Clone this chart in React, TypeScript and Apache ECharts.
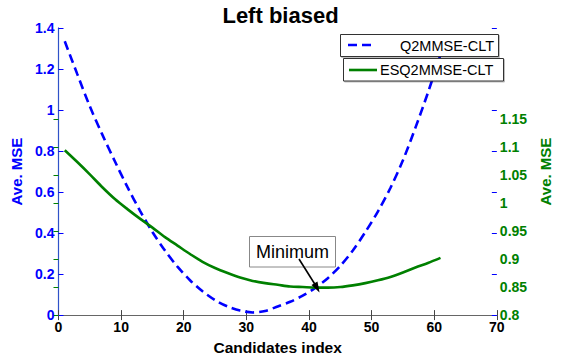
import React, { useEffect, useRef } from "react";
import * as echarts from "echarts";

// Candidate indices (sampled every 2)
const candidates = [1, 3, 5, 7, 9, 11, 13, 15, 17, 19, 21, 23, 25, 27, 29, 31, 33, 35, 37, 39, 41, 43, 45, 47, 49, 51, 53, 55, 57, 59, 61];
// Q2MMSE-CLT (left axis)
const q2mmse = [1.335, 1.175, 1.018, 0.88, 0.75, 0.625, 0.51, 0.405, 0.315, 0.236, 0.17, 0.116, 0.073, 0.042, 0.022, 0.013, 0.02, 0.042, 0.065, 0.095, 0.133, 0.18, 0.24, 0.315, 0.405, 0.505, 0.62, 0.755, 0.914, 1.085, 1.27];
// ESQ2MMSE-CLT (right axis)
const esq2mmse = [1.094, 1.073, 1.051, 1.028, 1.007, 0.989, 0.972, 0.956, 0.939, 0.924, 0.909, 0.895, 0.884, 0.875, 0.867, 0.861, 0.857, 0.854, 0.851, 0.85, 0.849, 0.849, 0.85, 0.853, 0.857, 0.862, 0.868, 0.876, 0.885, 0.893, 0.902];
const rightTicks = [0.8, 0.85, 0.9, 0.95, 1, 1.05, 1.1, 1.15];

const FONT = "'Liberation Sans', Arial, Helvetica, sans-serif";
const BLUE = "#0000ff";
const GREEN = "#008000";

export default function App() {
  const ref = useRef<HTMLDivElement>(null);
  useEffect(() => {
    if (!ref.current) return;
    const chart = echarts.init(ref.current, null, { renderer: "svg" });
    const grid = { left: 58.5, right: 58.5, top: 28, bottom: 38.5 };
    chart.setOption({
      animation: false,
      backgroundColor: "#fff",
      title: {
        text: "Left biased",
        left: "center",
        top: -1,
        textStyle: { fontFamily: FONT, fontSize: 22, fontWeight: "bold", color: "#000" },
      },
      grid,
      xAxis: [
        {
          type: "value",
          min: 0,
          max: 70,
          interval: 10,
          name: "Candidates index",
          nameLocation: "middle",
          nameGap: 21,
          nameTextStyle: { fontFamily: FONT, fontSize: 15.5, fontWeight: "bold", color: "#000" },
          axisLine: { show: true, lineStyle: { color: "#666", width: 1 } },
          axisTick: { show: true, inside: true, length: 5, lineStyle: { color: "#444" } },
          axisLabel: { fontFamily: FONT, fontSize: 14, fontWeight: "bold", color: "#000", margin: 5 },
          splitLine: { show: false },
        },
        {
          type: "value",
          position: "top",
          min: 0,
          max: 70,
          interval: 10,
          axisLine: { show: true, lineStyle: { color: "#666", width: 1 } },
          axisTick: { show: true, inside: true, length: 5, lineStyle: { color: "#444" } },
          axisLabel: { show: false },
          splitLine: { show: false },
        },
      ],
      yAxis: [
        {
          type: "value",
          position: "left",
          min: 0,
          max: 1.4,
          interval: 0.2,
          name: "Ave. MSE",
          nameLocation: "middle",
          nameRotate: 90,
          nameGap: 30,
          nameTextStyle: { fontFamily: FONT, fontSize: 15, fontWeight: "bold", color: BLUE },
          axisLine: { show: true, lineStyle: { color: "#6a6aff", width: 1 } },
          axisTick: { show: true, inside: true, length: 5, lineStyle: { color: BLUE } },
          axisLabel: { fontFamily: FONT, fontSize: 14, fontWeight: "bold", color: BLUE, margin: 4 },
          splitLine: { show: false },
        },
        {
          type: "value",
          position: "right",
          min: 0.8,
          max: 1.312,
          interval: 0.05,
          name: "Ave. MSE",
          nameLocation: "middle",
          nameRotate: 90,
          nameGap: 36,
          nameTextStyle: { fontFamily: FONT, fontSize: 15, fontWeight: "bold", color: GREEN },
          axisLine: { show: true, lineStyle: { color: "#2f52c8", width: 1.2 } },
          axisTick: { show: true, inside: true, length: 5, customValues: rightTicks, lineStyle: { color: GREEN } },
          axisLabel: {
            customValues: rightTicks,
            fontFamily: FONT,
            fontSize: 14,
            fontWeight: "bold",
            color: GREEN,
            margin: 3,
            formatter: (v: number) => String(Number(v.toFixed(2))),
          },
          splitLine: { show: false },
        },
        {
          type: "value",
          position: "right",
          min: 0,
          max: 1.4,
          interval: 0.2,
          axisLine: { show: false },
          axisTick: { show: true, inside: true, length: 5, lineStyle: { color: BLUE } },
          axisLabel: { show: false },
          splitLine: { show: false },
        },
      ],
      series: [
        {
          name: "Q2MMSE-CLT",
          type: "line",
          xAxisIndex: 0,
          yAxisIndex: 0,
          data: candidates.map((c, i) => [c, q2mmse[i]]),
          showSymbol: false,
          smooth: 0.3,
          lineStyle: { color: BLUE, width: 2.6, type: [9, 5] },
          z: 2,
        },
        {
          name: "ESQ2MMSE-CLT",
          type: "line",
          xAxisIndex: 0,
          yAxisIndex: 1,
          data: candidates.map((c, i) => [c, esq2mmse[i]]),
          showSymbol: false,
          smooth: 0.3,
          lineStyle: { color: GREEN, width: 2.6 },
          z: 3,
        },
      ],
      graphic: [
        // legend box 1
        {
          type: "rect",
          z: 100,
          shape: { x: 340.5, y: 34.5, width: 158, height: 22 },
          style: { fill: "#fff", stroke: "#333", lineWidth: 1, shadowColor: "rgba(0,0,0,0.25)", shadowOffsetX: 1, shadowOffsetY: 1, shadowBlur: 1 },
        },
        {
          type: "line",
          z: 101,
          shape: { x1: 348, y1: 45, x2: 376, y2: 45 },
          style: { stroke: BLUE, lineWidth: 2.6, lineDash: [9, 5] },
        },
        {
          type: "text",
          z: 101,
          x: 494,
          y: 45.5,
          style: { text: "Q2MMSE-CLT", fontFamily: FONT, fontSize: 14.5, fill: "#000", align: "right", verticalAlign: "middle" },
        },
        // legend box 2
        {
          type: "rect",
          z: 100,
          shape: { x: 343.5, y: 58.5, width: 160, height: 22.5 },
          style: { fill: "#fff", stroke: "#333", lineWidth: 1, shadowColor: "rgba(0,0,0,0.25)", shadowOffsetX: 1, shadowOffsetY: 1, shadowBlur: 1 },
        },
        {
          type: "line",
          z: 101,
          shape: { x1: 349, y1: 70, x2: 377, y2: 70 },
          style: { stroke: GREEN, lineWidth: 2.6 },
        },
        {
          type: "text",
          z: 101,
          x: 380,
          y: 70,
          style: { text: "ESQ2MMSE-CLT", fontFamily: FONT, fontSize: 14.5, fill: "#000", align: "left", verticalAlign: "middle" },
        },
        // Minimum annotation
        {
          type: "rect",
          z: 100,
          shape: { x: 249.5, y: 236.5, width: 86, height: 30.5 },
          style: { fill: "#fff", stroke: "#888", lineWidth: 1 },
        },
        {
          type: "text",
          z: 101,
          x: 292.5,
          y: 252,
          style: { text: "Minimum", fontFamily: FONT, fontSize: 18, fill: "#000", align: "center", verticalAlign: "middle" },
        },
        {
          type: "line",
          z: 102,
          shape: { x1: 299, y1: 259, x2: 316, y2: 286 },
          style: { stroke: "#000", lineWidth: 1.6 },
        },
        {
          type: "polygon",
          z: 102,
          shape: { points: [[319.5, 292.5], [311.5, 285], [317.5, 281.5]] },
          style: { fill: "#000" },
        },
      ],
    });
    return () => chart.dispose();
  }, []);
  return <div ref={ref} style={{ position: "fixed", left: 0, top: 0, width: 561, height: 360 }} />;
}
